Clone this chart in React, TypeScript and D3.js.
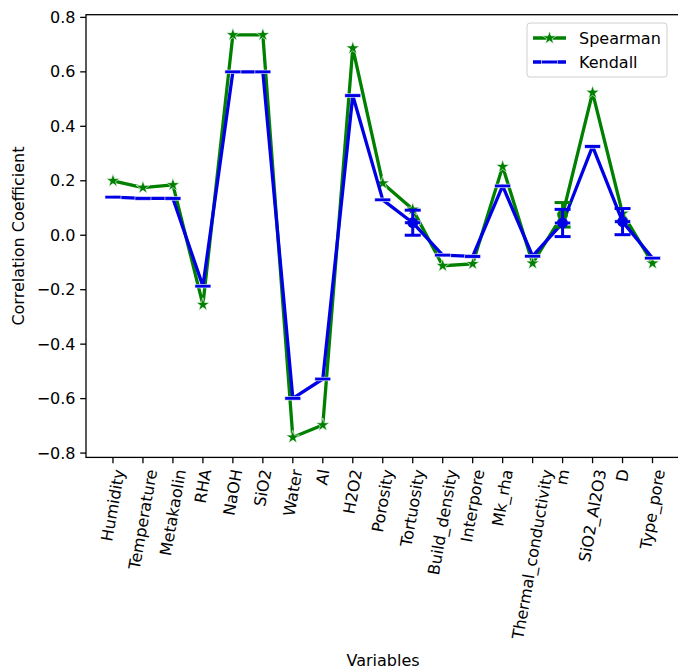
import * as d3 from "d3";
import { useMemo } from "react";

// variables on the x axis
const variables = [
  "Humidity", "Temperature", "Metakaolin", "RHA", "NaOH", "SiO2", "Water", "Al",
  "H2O2", "Porosity", "Tortuosity", "Build_density", "Interpore", "Mk_rha",
  "Thermal_conductivity", "m", "SiO2_Al2O3", "D", "Type_pore",
];
const spearman = [
  0.2, 0.175, 0.185, -0.255, 0.736, 0.736, -0.742, -0.697, 0.687, 0.191, 0.095,
  -0.112, -0.105, 0.252, -0.103, 0.075, 0.524, 0.08, -0.103,
];
const kendall = [
  0.14, 0.135, 0.135, -0.187, 0.6, 0.6, -0.599, -0.528, 0.513, 0.13, 0.046,
  -0.073, -0.078, 0.181, -0.077, 0.045, 0.326, 0.05, -0.084,
];
// error bars
const spearmanErrVars = ["m"];
const spearmanErrMean = [0.075];
const spearmanErrSize = [0.045];
const kendallErrVars = ["Tortuosity", "m", "D"];
const kendallErrMean = [0.046, 0.045, 0.05];
const kendallErrSize = [0.046, 0.05, 0.048];
const yTicks = [-0.8, -0.6, -0.4, -0.2, 0.0, 0.2, 0.4, 0.6, 0.8];

const W = 678;
const H = 669;
const margin = { left: 86, right: -1.5, top: 14.7, bottom: 211.6 };
const FS = 16;
const FONT = "DejaVu Sans, sans-serif";
const GREEN = "#008000";
const BLUE = "#0000e6";

const App = () => {
  const x = useMemo(
    () =>
      d3
        .scaleLinear()
        .domain([-0.9, variables.length - 1 + 0.9])
        .range([margin.left, W - margin.right]),
    []
  );
  const [lo, hi] = d3.extent(spearman.concat(kendall)) as [number, number];
  const pad = (hi - lo) * 0.05;
  const y = d3
    .scaleLinear()
    .domain([lo - pad, hi + pad])
    .range([H - margin.bottom, margin.top]);

  const widths = useMemo(() => {
    const ctx = document.createElement("canvas").getContext("2d");
    if (!ctx) return variables.map((v) => v.length * FS * 0.6);
    ctx.font = `${FS}px "DejaVu Sans"`;
    return variables.map((v) => ctx.measureText(v).width);
  }, []);

  const line = d3
    .line<number>()
    .x((_, i) => x(i))
    .y((d) => y(d));
  const star = d3.symbol(d3.symbolStar, 56)() as string;

  const x0 = margin.left;
  const x1 = W - margin.right;
  const y0 = margin.top;
  const y1 = H - margin.bottom;
  const fmt = (v: number) => d3.format(".1f")(v).replace("-", "\u2212");

  const cos = Math.cos((80 * Math.PI) / 180);
  const sin = Math.sin((80 * Math.PI) / 180);
  const asc = 0.93 * FS;
  const desc = 0.24 * FS;
  const labelTop = y1 + 5.8 + 4.7;

  const errBar = (xv: number, m: number, e: number, color: string, key: string) => (
    <g key={key} stroke={color} strokeWidth={3}>
      <line x1={xv} x2={xv} y1={y(m - e)} y2={y(m + e)} />
      <line x1={xv - 8} x2={xv + 8} y1={y(m - e)} y2={y(m - e)} />
      <line x1={xv - 8} x2={xv + 8} y1={y(m + e)} y2={y(m + e)} />
      <circle cx={xv} cy={y(m)} r={5.4} fill={color} stroke="none" />
    </g>
  );

  const kMarker = (cx: number, cy: number, key: string | number) => (
    <rect key={key} x={cx - 8} y={cy - 1.8} width={16} height={3.6} fill={BLUE} stroke="#fff" strokeOpacity={0.85} strokeWidth={0.7} />
  );

  return (
    <svg width={W} height={H} style={{ position: "absolute", left: 0, top: 0 }} fontFamily={FONT}>
      <rect width={W} height={H} fill="#fff" />

      {/* series */}
      <path d={line(spearman) ?? ""} fill="none" stroke={GREEN} strokeWidth={3.3} strokeLinejoin="round" />
      {spearman.map((v, i) => (
        <path key={i} d={star} transform={`translate(${x(i)},${y(v)})`} fill={GREEN} stroke="#fff" strokeWidth={0.6} />
      ))}
      <path d={line(kendall) ?? ""} fill="none" stroke={BLUE} strokeWidth={3.3} strokeLinejoin="round" />
      {kendall.map((v, i) => kMarker(x(i), y(v), i))}

      {spearmanErrVars.map((v, j) =>
        errBar(x(variables.indexOf(v)), spearmanErrMean[j], spearmanErrSize[j], GREEN, "s" + j)
      )}
      {kendallErrVars.map((v, j) =>
        errBar(x(variables.indexOf(v)), kendallErrMean[j], kendallErrSize[j], BLUE, "k" + j)
      )}

      {/* frame */}
      <rect x={x0} y={y0} width={x1 - x0} height={y1 - y0} fill="none" stroke="#000" strokeWidth={1.3} />

      {/* y axis */}
      {yTicks.map((t) => (
        <g key={t}>
          <line x1={x0 - 5.8} x2={x0} y1={y(t)} y2={y(t)} stroke="#000" strokeWidth={1.3} />
          <text x={x0 - 10.5} y={y(t)} textAnchor="end" dominantBaseline="central" fontSize={FS}>
            {fmt(t)}
          </text>
        </g>
      ))}
      <text
        transform={`translate(18, ${(y0 + y1) / 2}) rotate(-90)`}
        textAnchor="middle"
        dominantBaseline="central"
        fontSize={FS}
      >
        Correlation Coefficient
      </text>

      {/* x axis */}
      {variables.map((v, i) => {
        const L = widths[i];
        const ax = x(i) + (cos * L + sin * (asc - desc)) / 2;
        const ay = labelTop + cos * asc;
        return (
          <g key={v}>
            <line x1={x(i)} x2={x(i)} y1={y1} y2={y1 + 5.8} stroke="#000" strokeWidth={1.3} />
            <text transform={`translate(${ax},${ay}) rotate(-80)`} textAnchor="end" fontSize={FS}>
              {v}
            </text>
          </g>
        );
      })}
      <text x={(x0 + Math.min(x1, W)) / 2 + 1} y={666} textAnchor="middle" fontSize={FS}>
        Variables
      </text>

      {/* legend */}
      <g>
        <rect x={527} y={23} width={140} height={54} rx={3} fill="#fff" fillOpacity={0.8} stroke="#d0d0d0" />
        <line x1={533} x2={566} y1={38} y2={38} stroke={GREEN} strokeWidth={3.3} />
        <path d={star} transform="translate(549.5,38)" fill={GREEN} stroke="#fff" strokeWidth={0.6} />
        <text x={579} y={38} dominantBaseline="central" fontSize={FS}>Spearman</text>
        <line x1={533} x2={566} y1={62} y2={62} stroke={BLUE} strokeWidth={3.3} />
        {kMarker(549.5, 62, "lg")}
        <text x={579} y={62} dominantBaseline="central" fontSize={FS}>Kendall</text>
      </g>
    </svg>
  );
};

export default App;
